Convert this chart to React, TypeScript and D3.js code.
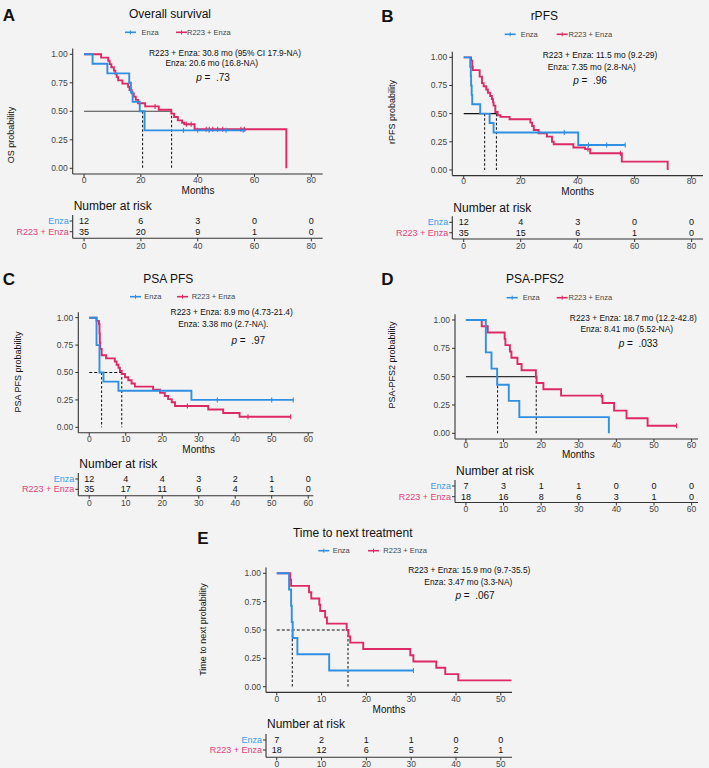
import React from 'react';
import * as d3 from 'd3';

// ---------------- DATA ----------------
const yTicks = [0, 0.25, 0.5, 0.75, 1];
const yTickLabels = ['0.00', '0.25', '0.50', '0.75', '1.00'];

// A: Overall survival
const osTicks = [0, 20, 40, 60, 80];
const osEnzaTimes = [3.0, 8.2, 15.9, 16.5, 17.1, 19.6, 21.3];
const osEnzaSurv = [0.917, 0.833, 0.75, 0.667, 0.583, 0.5, 0.333];
const osEnzaEnd = 57;
const osEnzaCensor = [35, 40, 44, 50, 56];
const osR223Times = [6, 8.5, 9, 9.6, 10.5, 11, 11.5, 12, 13.5, 15.5, 16, 16.8, 17.5, 18.2, 19, 21.5, 26.3, 30.7, 31.7, 33, 34.5, 35.3, 38.9, 71.2];
const osR223Surv = [0.971, 0.943, 0.914, 0.886, 0.857, 0.829, 0.8, 0.771, 0.743, 0.714, 0.686, 0.657, 0.629, 0.6, 0.571, 0.543, 0.514, 0.48, 0.45, 0.42, 0.4, 0.386, 0.343, 0];
const osR223End = 71.2;
const osR223Censor = [25, 36, 37.7, 43, 44.1, 45.3, 47, 48.8, 55.2, 56.4];
const osMedians = [20.6, 30.8];
const osRiskEnza = [12, 6, 3, 0, 0];
const osRiskR223 = [35, 20, 9, 1, 0];

// B: rPFS
const rpfsTicks = [0, 20, 40, 60, 80];
const rpfsEnzaTimes = [2.3, 2.5, 2.6, 2.8, 3.0, 5.8, 9.1, 10.5, 40.2];
const rpfsEnzaSurv = [0.917, 0.833, 0.75, 0.667, 0.583, 0.5, 0.417, 0.333, 0.222];
const rpfsEnzaEnd = 56.7;
const rpfsEnzaCensor = [35.3, 43.8, 50.2, 56.7];
const rpfsR223Times = [2.6, 3.0, 3.2, 5.6, 6.4, 7.0, 7.9, 8.5, 9.3, 9.9, 10.3, 10.5, 11.1, 11.9, 12.9, 16.1, 23.4, 24.0, 24.6, 26.3, 29.2, 31.0, 31.6, 38.5, 42.6, 44.4, 55.5, 71.6];
const rpfsR223Surv = [0.971, 0.914, 0.886, 0.829, 0.771, 0.743, 0.714, 0.686, 0.657, 0.629, 0.6, 0.571, 0.514, 0.486, 0.471, 0.45, 0.42, 0.39, 0.355, 0.325, 0.296, 0.25, 0.228, 0.2, 0.185, 0.148, 0.074, 0];
const rpfsR223End = 71.6;
const rpfsR223Censor = [43.6, 55.0];
const rpfsMedians = [7.35, 11.5];
const rpfsRiskEnza = [12, 4, 3, 0, 0];
const rpfsRiskR223 = [35, 15, 6, 1, 0];

// C: PSA PFS
const pfsTicks = [0, 10, 20, 30, 40, 50, 60];
const pfsEnzaTimes = [2.0, 2.8, 3.9, 8.0, 28.0];
const pfsEnzaSurv = [0.75, 0.5, 0.417, 0.333, 0.25];
const pfsEnzaEnd = 55.9;
const pfsEnzaCensor = [35.1, 50, 55.9];
const pfsR223Times = [2.0, 2.65, 2.8, 2.9, 3.0, 3.4, 4.6, 7.0, 7.5, 8.0, 8.4, 8.9, 9.8, 10.7, 11.6, 12.5, 17.5, 19.4, 20.7, 21.6, 22.6, 23.5, 32.6, 36.7, 41.2];
const pfsR223Surv = [0.971, 0.943, 0.857, 0.771, 0.714, 0.657, 0.629, 0.6, 0.571, 0.543, 0.514, 0.486, 0.457, 0.429, 0.4, 0.371, 0.343, 0.314, 0.286, 0.257, 0.229, 0.194, 0.162, 0.13, 0.097];
const pfsR223End = 55.2;
const pfsR223Censor = [26.9, 43.5, 55.2];
const pfsMedians = [3.38, 8.9];
const pfsRiskEnza = [12, 4, 4, 3, 2, 1, 0];
const pfsRiskR223 = [35, 17, 11, 6, 4, 1, 0];

// D: PSA-PFS2
const pfs2Ticks = [0, 10, 20, 30, 40, 50, 60];
const pfs2EnzaTimes = [5.3, 6.8, 8.3, 11.4, 14.2, 38.0];
const pfs2EnzaSurv = [0.714, 0.571, 0.429, 0.286, 0.143, 0];
const pfs2EnzaEnd = 38.0;
const pfs2EnzaCensor: number[] = [];
const pfs2R223Times = [4.2, 5.8, 10.3, 10.5, 11.7, 12.1, 13.7, 14.8, 18.6, 18.8, 20.6, 25.3, 36.3, 39.4, 42.7, 48.3];
const pfs2R223Surv = [0.944, 0.889, 0.833, 0.778, 0.722, 0.667, 0.611, 0.556, 0.5, 0.444, 0.389, 0.333, 0.267, 0.2, 0.133, 0.067];
const pfs2R223End = 56.0;
const pfs2R223Censor = [36.0, 56.0];
const pfs2Medians = [8.41, 18.7];
const pfs2RiskEnza = [7, 3, 1, 1, 0, 0, 0];
const pfs2RiskR223 = [18, 16, 8, 6, 3, 1, 0];

// E: Time to next treatment
const ttntTicks = [0, 10, 20, 30, 40, 50];
const ttntEnzaTimes = [2.75, 3.2, 3.35, 3.56, 4.6, 11.7];
const ttntEnzaSurv = [0.857, 0.714, 0.571, 0.429, 0.286, 0.143];
const ttntEnzaEnd = 30.5;
const ttntEnzaCensor = [30.5];
const ttntR223Times = [3.0, 3.2, 7.2, 7.7, 9.5, 9.7, 10.8, 11.2, 15.6, 16.0, 16.4, 19.3, 29.8, 30.5, 35.6, 37.6, 40.5];
const ttntR223Surv = [0.944, 0.889, 0.833, 0.778, 0.722, 0.667, 0.611, 0.556, 0.5, 0.444, 0.389, 0.333, 0.278, 0.222, 0.167, 0.111, 0.056];
const ttntR223End = 52.4;
const ttntR223Censor: number[] = [];
const ttntMedians = [3.47, 15.9];
const ttntRiskEnza = [7, 2, 1, 1, 0, 0];
const ttntRiskR223 = [18, 12, 6, 5, 2, 1];

// ---------------- STYLE ----------------
const BLUE = '#2f8fe3';
const RED = '#dd2a66';
const BLUE_T = '#3c9cec';
const RED_T = '#e2437c';
const AX = '#333333';
const FONT = '"Liberation Sans", Arial, Helvetica, sans-serif';
const BG = '#f3f3f3';

type Curve = { times: number[]; surv: number[]; end: number; censor: number[] };

type Cfg = {
  letter: string; letterX: number; letterY: number;
  title: string; titleX: number; titleY: number;
  legendY: number; legEnzaX: number; legEnzaTX: number; legRX: number; legRTX: number;
  annot: string[]; annotPos: number[][]; pText: string;
  xDomain: number[]; xRange: number[]; yBottom: number; yTop: number;
  ticks: number[]; xTickY: number; monthsX: number; monthsY: number;
  yLabel: string; yLabelX: number; yLabelY: number;
  narY: number; row1Y: number; row2Y: number; tableAxisY: number; tableTickY: number;
  enza: Curve; r223: Curve; medians: number[]; hDashed: boolean; hColor: string;
  riskEnza: number[]; riskR223: number[];
};

function survAt(c: Curve, t: number) {
  let s = 1;
  c.times.forEach((tt, i) => { if (tt <= t) s = c.surv[i]; });
  return s;
}

function Panel({ c }: { c: Cfg }) {
  const x = d3.scaleLinear().domain(c.xDomain).range(c.xRange);
  const y = d3.scaleLinear().domain([-0.05, 1.05]).range([c.yBottom, c.yTop]);
  const line = d3.line<[number, number]>().x(d => x(d[0])).y(d => y(d[1])).curve(d3.curveStepAfter);
  const pathOf = (cv: Curve) => {
    const pts: [number, number][] = [[0, 1]];
    cv.times.forEach((t, i) => pts.push([t, cv.surv[i]]));
    const last = cv.surv[cv.surv.length - 1];
    if (cv.end > cv.times[cv.times.length - 1]) pts.push([cv.end, last]);
    return line(pts) || '';
  };
  const maxMed = Math.max(...c.medians);
  const [x0, x1] = c.xRange;
  const tickFs = 8.5;
  return (
    <g fontFamily={FONT}>
      <text x={c.letterX} y={c.letterY} dy="0.35em" textAnchor="middle" fontSize={17} fontWeight="bold" fill="#111">{c.letter}</text>
      <text x={c.titleX} y={c.titleY} dy="0.35em" textAnchor="middle" fontSize={12} fill="#111">{c.title}</text>
      {/* legend */}
      <g fontSize={7.5} fill="#444">
        <line x1={c.legEnzaX} x2={c.legEnzaX + 11} y1={c.legendY} y2={c.legendY} stroke={BLUE} strokeWidth={1.6} />
        <line x1={c.legEnzaX + 5.5} x2={c.legEnzaX + 5.5} y1={c.legendY - 2} y2={c.legendY + 2} stroke={BLUE} strokeWidth={1} />
        <text x={c.legEnzaTX} y={c.legendY} dy="0.35em">Enza</text>
        <line x1={c.legRX} x2={c.legRX + 11} y1={c.legendY} y2={c.legendY} stroke={RED} strokeWidth={1.6} />
        <line x1={c.legRX + 5.5} x2={c.legRX + 5.5} y1={c.legendY - 2} y2={c.legendY + 2} stroke={RED} strokeWidth={1} />
        <text x={c.legRTX} y={c.legendY} dy="0.35em">R223 + Enza</text>
      </g>
      {/* annotations */}
      <g fontSize={8.4} fill="#111" textAnchor="middle">
        {c.annot.map((a, i) => (
          <text key={i} x={c.annotPos[i][0]} y={c.annotPos[i][1]} dy="0.35em">{a}</text>
        ))}
        <text x={c.annotPos[2][0]} y={c.annotPos[2][1]} dy="0.35em" fontSize={10} xmlSpace="preserve">
          <tspan fontStyle="italic">p</tspan>{' =  ' + c.pText}
        </text>
      </g>
      {/* y label */}
      <text transform={`translate(${c.yLabelX},${c.yLabelY}) rotate(-90)`} dy="0.35em" textAnchor="middle" fontSize={9} fill="#111">{c.yLabel}</text>
      {/* axes */}
      <line x1={x0} x2={x0} y1={c.yTop} y2={c.yBottom} stroke={AX} strokeWidth={1.1} />
      <line x1={x0} x2={x1} y1={c.yBottom} y2={c.yBottom} stroke={AX} strokeWidth={1.1} />
      {yTicks.map((t, i) => (
        <g key={t}>
          <line x1={x0 - 3} x2={x0} y1={y(t)} y2={y(t)} stroke={AX} strokeWidth={1} />
          <text x={x0 - 5} y={y(t)} dy="0.35em" textAnchor="end" fontSize={tickFs} fill="#444">{yTickLabels[i]}</text>
        </g>
      ))}
      {c.ticks.map(t => (
        <g key={t}>
          <line x1={x(t)} x2={x(t)} y1={c.yBottom} y2={c.yBottom + 3} stroke={AX} strokeWidth={1} />
          <text x={x(t)} y={c.xTickY} dy="0.35em" textAnchor="middle" fontSize={tickFs} fill="#444">{t}</text>
        </g>
      ))}
      <text x={c.monthsX} y={c.monthsY} dy="0.35em" textAnchor="middle" fontSize={10} fill="#111">Months</text>
      {/* median lines */}
      <line x1={x(0)} x2={x(maxMed)} y1={y(0.5)} y2={y(0.5)} stroke={c.hColor} strokeWidth={1.1} strokeDasharray={c.hDashed ? '3,2' : undefined} />
      {c.medians.map((m, i) => (
        <line key={i} x1={x(m)} x2={x(m)} y1={y(0.5)} y2={y(0)} stroke="#222" strokeWidth={1.1} strokeDasharray="2.5,2" />
      ))}
      {/* curves */}
      {[{ cv: c.r223, col: RED }, { cv: c.enza, col: BLUE }].map(({ cv, col }, k) => (
        <g key={k}>
          <path d={pathOf(cv)} fill="none" stroke={col} strokeWidth={1.9} />
          {cv.censor.map((t, j) => (
            <line key={j} x1={x(t)} x2={x(t)} y1={y(survAt(cv, t)) - 2.5} y2={y(survAt(cv, t)) + 2.5} stroke={col} strokeWidth={1.1} />
          ))}
        </g>
      ))}
      {/* risk table */}
      <text x={x0 + 1} y={c.narY} dy="0.35em" fontSize={12} fill="#111">Number at risk</text>
      <line x1={x0} x2={x0} y1={c.row1Y - 6} y2={c.tableAxisY} stroke={AX} strokeWidth={1.1} />
      <line x1={x0} x2={x1} y1={c.tableAxisY} y2={c.tableAxisY} stroke={AX} strokeWidth={1.1} />
      {[c.row1Y, c.row2Y].map((ry, i) => (
        <line key={i} x1={x0 - 3} x2={x0} y1={ry} y2={ry} stroke={AX} strokeWidth={1} />
      ))}
      <text x={x0 - 4} y={c.row1Y} dy="0.35em" textAnchor="end" fontSize={9} fill={BLUE_T}>Enza</text>
      <text x={x0 - 4} y={c.row2Y} dy="0.35em" textAnchor="end" fontSize={9} fill={RED_T}>R223 + Enza</text>
      {c.ticks.map((t, i) => (
        <g key={t} fontSize={9} fill="#111" textAnchor="middle">
          <text x={x(t)} y={c.row1Y} dy="0.35em">{c.riskEnza[i]}</text>
          <text x={x(t)} y={c.row2Y} dy="0.35em">{c.riskR223[i]}</text>
          <line x1={x(t)} x2={x(t)} y1={c.tableAxisY} y2={c.tableAxisY + 3} stroke={AX} strokeWidth={1} />
          <text x={x(t)} y={c.tableTickY} dy="0.35em" fontSize={tickFs} fill="#444">{t}</text>
        </g>
      ))}
    </g>
  );
}

const panels: Cfg[] = [
  {
    letter: 'A', letterX: 9, letterY: 15, title: 'Overall survival', titleX: 170, titleY: 14,
    legendY: 32.3, legEnzaX: 125, legEnzaTX: 141.5, legRX: 176, legRTX: 187,
    annot: ['R223 + Enza: 30.8 mo (95% CI 17.9-NA)', 'Enza: 20.6 mo (16.8-NA)'], annotPos: [[225, 52.7], [211.7, 63.3], [213, 77.7]], pText: '.73',
    xDomain: [-4, 84], xRange: [72.7, 322.7], yBottom: 174, yTop: 48.6,
    ticks: osTicks, xTickY: 180.2, monthsX: 198, monthsY: 190.2,
    yLabel: 'OS probability', yLabelX: 11, yLabelY: 135,
    narY: 206, row1Y: 221, row2Y: 231.7, tableAxisY: 238.3, tableTickY: 245.7,
    enza: { times: osEnzaTimes, surv: osEnzaSurv, end: osEnzaEnd, censor: osEnzaCensor },
    r223: { times: osR223Times, surv: osR223Surv, end: osR223End, censor: osR223Censor },
    medians: osMedians, hDashed: false, hColor: '#444', riskEnza: osRiskEnza, riskR223: osRiskR223,
  },
  {
    letter: 'B', letterX: 387.5, letterY: 16, title: 'rPFS', titleX: 544.3, titleY: 16,
    legendY: 34.3, legEnzaX: 504.7, legEnzaTX: 520.7, legRX: 556.7, legRTX: 568.5,
    annot: ['R223 + Enza: 11.5 mo (9.2-29)', 'Enza: 7.35 mo (2.8-NA)'], annotPos: [[600, 55], [591.7, 66.7], [590, 80]], pText: '.96',
    xDomain: [-4, 84], xRange: [452.3, 703], yBottom: 175.6, yTop: 51.7,
    ticks: rpfsTicks, xTickY: 181.5, monthsX: 577.7, monthsY: 191.5,
    yLabel: 'rPFS probability', yLabelX: 392, yLabelY: 112,
    narY: 207.3, row1Y: 222.3, row2Y: 232.7, tableAxisY: 239, tableTickY: 245.7,
    enza: { times: rpfsEnzaTimes, surv: rpfsEnzaSurv, end: rpfsEnzaEnd, censor: rpfsEnzaCensor },
    r223: { times: rpfsR223Times, surv: rpfsR223Surv, end: rpfsR223End, censor: rpfsR223Censor },
    medians: rpfsMedians, hDashed: false, hColor: '#111', riskEnza: rpfsRiskEnza, riskR223: rpfsRiskR223,
  },
  {
    letter: 'C', letterX: 9, letterY: 279, title: 'PSA PFS', titleX: 168.3, titleY: 279,
    legendY: 296.7, legEnzaX: 130, legEnzaTX: 144.3, legRX: 177, legRTX: 191.7,
    annot: ['R223 + Enza: 8.9 mo (4.73-21.4)', 'Enza: 3.38 mo (2.7-NA).'], annotPos: [[231.7, 312.3], [223.3, 324], [248.3, 340.7]], pText: '.97',
    xDomain: [-3, 61.4], xRange: [78.3, 313.3], yBottom: 432.8, yTop: 312.2,
    ticks: pfsTicks, xTickY: 439.3, monthsX: 198.7, monthsY: 449.2,
    yLabel: 'PSA PFS probability', yLabelX: 18.3, yLabelY: 372,
    narY: 464, row1Y: 479, row2Y: 489.3, tableAxisY: 495.7, tableTickY: 502.7,
    enza: { times: pfsEnzaTimes, surv: pfsEnzaSurv, end: pfsEnzaEnd, censor: pfsEnzaCensor },
    r223: { times: pfsR223Times, surv: pfsR223Surv, end: pfsR223End, censor: pfsR223Censor },
    medians: pfsMedians, hDashed: true, hColor: '#111', riskEnza: pfsRiskEnza, riskR223: pfsRiskR223,
  },
  {
    letter: 'D', letterX: 387.5, letterY: 279, title: 'PSA-PFS2', titleX: 535, titleY: 279,
    legendY: 297.7, legEnzaX: 506.7, legEnzaTX: 522.7, legRX: 556.7, legRTX: 568.5,
    annot: ['R223 + Enza: 18.7 mo (12.2-42.8)', 'Enza: 8.41 mo (5.52-NA)'], annotPos: [[633.3, 317.7], [626.7, 329], [638.3, 343.3]], pText: '.033',
    xDomain: [-2.9, 61.7], xRange: [455, 698], yBottom: 439, yTop: 314.3,
    ticks: pfs2Ticks, xTickY: 445, monthsX: 578.3, monthsY: 454.5,
    yLabel: 'PSA-PFS2 probability', yLabelX: 391.7, yLabelY: 365,
    narY: 471, row1Y: 486, row2Y: 496.7, tableAxisY: 502.5, tableTickY: 509,
    enza: { times: pfs2EnzaTimes, surv: pfs2EnzaSurv, end: pfs2EnzaEnd, censor: pfs2EnzaCensor },
    r223: { times: pfs2R223Times, surv: pfs2R223Surv, end: pfs2R223End, censor: pfs2R223Censor },
    medians: pfs2Medians, hDashed: false, hColor: '#333', riskEnza: pfs2RiskEnza, riskR223: pfs2RiskR223,
  },
  {
    letter: 'E', letterX: 203, letterY: 537.7, title: 'Time to next treatment', titleX: 352.7, titleY: 532.3,
    legendY: 550.7, legEnzaX: 318.3, legEnzaTX: 332.7, legRX: 368, legRTX: 383.3,
    annot: ['R223 + Enza: 15.9 mo (9.7-35.5)', 'Enza: 3.47 mo (3.3-NA)'], annotPos: [[469.3, 570], [468.3, 582.3], [475, 595.7]], pText: '.067',
    xDomain: [-2.4, 52.5], xRange: [266, 512], yBottom: 692.4, yTop: 567.6,
    ticks: ttntTicks, xTickY: 699.3, monthsX: 389, monthsY: 709.5,
    yLabel: 'Time to next probability', yLabelX: 203.3, yLabelY: 629.5,
    narY: 724, row1Y: 740, row2Y: 750, tableAxisY: 757.3, tableTickY: 764,
    enza: { times: ttntEnzaTimes, surv: ttntEnzaSurv, end: ttntEnzaEnd, censor: ttntEnzaCensor },
    r223: { times: ttntR223Times, surv: ttntR223Surv, end: ttntR223End, censor: ttntR223Censor },
    medians: ttntMedians, hDashed: true, hColor: '#111', riskEnza: ttntRiskEnza, riskR223: ttntRiskR223,
  },
];

export default function App() {
  return (
    <svg width={709} height={768} viewBox="0 0 709 768" style={{ position: 'absolute', left: 0, top: 0, display: 'block' }}>
      <rect x={0} y={0} width={709} height={768} fill={BG} />
      {panels.map((p, i) => <Panel key={i} c={p} />)}
    </svg>
  );
}
